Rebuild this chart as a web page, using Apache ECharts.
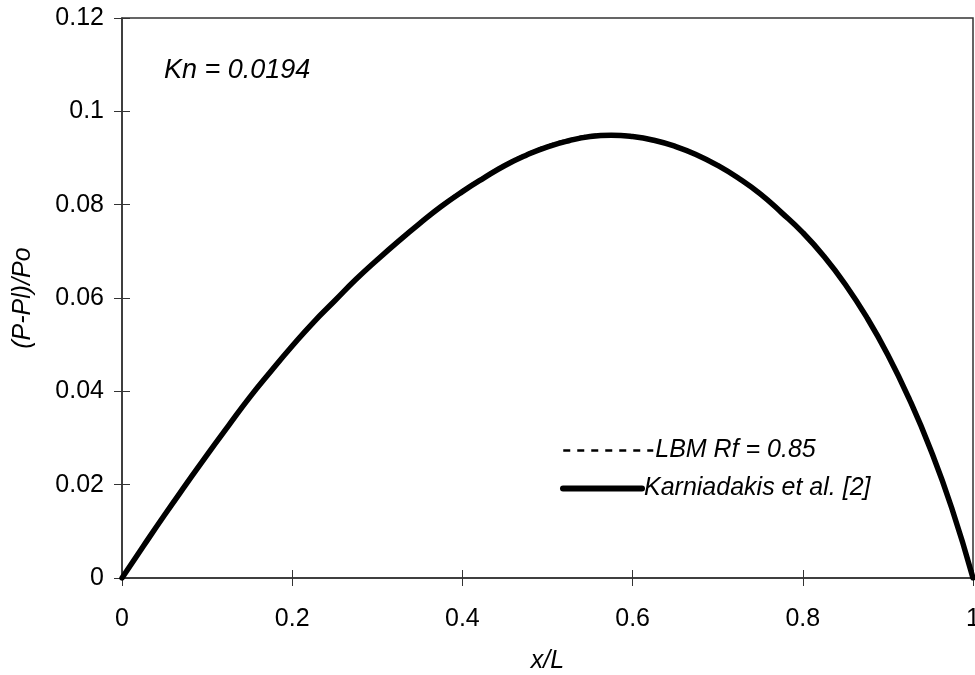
<!DOCTYPE html>
<html>
<head>
<meta charset="utf-8">
<script src="https://cdn.jsdelivr.net/npm/echarts@6/dist/echarts.min.js"></script>
<style>html,body{margin:0;padding:0;background:#fff;}#c{width:975px;height:675px;}</style>
</head>
<body>
<div id="c"></div>
<script>
var xValues = [0,0.025,0.05,0.075,0.1,0.125,0.15,0.175,0.2,0.225,0.25,0.275,0.3,0.325,0.35,0.375,0.4,0.425,0.45,0.475,0.5,0.525,0.55,0.575,0.6,0.625,0.65,0.675,0.7,0.725,0.75,0.775,0.8,0.825,0.85,0.875,0.9,0.925,0.95,0.975,1.0];
var karniadakis = [0,0.0068,0.0135,0.0200,0.0264,0.0326,0.0387,0.0443,0.0497,0.0548,0.0594,0.0640,0.0682,0.0722,0.0760,0.0796,0.0828,0.0857,0.0884,0.0906,0.0924,0.0937,0.0946,0.0949,0.0946,0.0938,0.0925,0.0907,0.0884,0.0856,0.0823,0.0783,0.0740,0.0689,0.0629,0.0559,0.0478,0.0384,0.0276,0.0150,0];
var lbm = [0,0.0069,0.0137,0.0202,0.0266,0.0328,0.0389,0.0446,0.0500,0.0551,0.0597,0.0643,0.0685,0.0725,0.0763,0.0799,0.0831,0.0860,0.0887,0.0909,0.0927,0.0940,0.0949,0.0951,0.0948,0.0940,0.0927,0.0909,0.0886,0.0858,0.0825,0.0785,0.0742,0.0691,0.0631,0.0561,0.0480,0.0386,0.0277,0.0151,0];
var xTicks = [0,0.2,0.4,0.6,0.8,1];
var yTicks = [0,0.02,0.04,0.06,0.08,0.1,0.12];
var seriesNames = ['LBM Rf = 0.85','Karniadakis et al. [2]'];
var annotation = 'Kn = 0.0194';
var xTitle = 'x/L';
var yTitle = '(P-Pl)/Po';

function pairs(ys){ return xValues.map(function(x,i){ return [x, ys[i]]; }); }

var FONT = '"Liberation Sans", Arial, sans-serif';
var axisColor = '#333';
var FS = 25;

var chart = echarts.init(document.getElementById('c'), null, {renderer:'canvas'});
chart.setOption({
  animation:false,
  backgroundColor:'#fff',
  grid:{left:122, right:2, top:18, bottom:97, show:true, borderColor:axisColor, borderWidth:1.5, containLabel:false, outerBoundsMode:'none'},
  xAxis:[{
    type:'value', min:xTicks[0], max:xTicks[xTicks.length-1], interval:0.2,
    name:xTitle, nameLocation:'middle', nameGap:71,
    nameTextStyle:{fontFamily:FONT, fontStyle:'italic', fontSize:FS, color:'#000'},
    axisLine:{show:true, lineStyle:{color:axisColor, width:1.5}},
    axisTick:{show:true, inside:false, length:8, lineStyle:{color:axisColor, width:1}},
    axisLabel:{margin:29, fontFamily:FONT, fontSize:FS, color:'#000', formatter:function(v){return String(+v.toFixed(2));}},
    splitLine:{show:false}
  },{
    type:'value', min:xTicks[0], max:xTicks[xTicks.length-1], interval:0.2, position:'bottom',
    axisLine:{show:false}, axisLabel:{show:false},
    axisTick:{show:true, inside:true, length:8, lineStyle:{color:axisColor, width:1}},
    splitLine:{show:false}
  }],
  yAxis:[{
    type:'value', min:yTicks[0], max:yTicks[yTicks.length-1], interval:0.02,
    name:yTitle, nameLocation:'middle', nameGap:86, nameRotate:90,
    nameTextStyle:{fontFamily:FONT, fontStyle:'italic', fontSize:FS, color:'#000'},
    axisLine:{show:true, lineStyle:{color:axisColor, width:1.5}},
    axisTick:{show:true, inside:false, length:8, lineStyle:{color:axisColor, width:1}},
    axisLabel:{margin:18, fontFamily:FONT, fontSize:FS, color:'#000', formatter:function(v){return String(+v.toFixed(2));}},
    splitLine:{show:false}
  },{
    type:'value', min:yTicks[0], max:yTicks[yTicks.length-1], interval:0.02, position:'left',
    axisLine:{show:false}, axisLabel:{show:false},
    axisTick:{show:true, inside:true, length:8, lineStyle:{color:axisColor, width:1}},
    splitLine:{show:false}
  }],
  legend:[{
    data:[seriesNames[0]], orient:'vertical', left:557, top:433, itemWidth:90, itemHeight:14, itemGap:5,
    itemStyle:{opacity:0},
    lineStyle:{color:'#000', width:2.5, type:[7,7]},
    textStyle:{fontFamily:FONT, fontStyle:'italic', fontSize:FS, color:'#000', padding:[0,0,0,-3]}
  },{
    data:[seriesNames[1]], orient:'vertical', left:555, top:471, itemWidth:79, itemHeight:14, itemGap:5,
    itemStyle:{opacity:0},
    lineStyle:{color:'#000', width:6, cap:'round'},
    textStyle:{fontFamily:FONT, fontStyle:'italic', fontSize:FS, color:'#000', padding:[0,0,0,-3]}
  }],
  graphic:[{
    type:'text', left:164, top:57,
    style:{text:annotation, font:'italic 27px "Liberation Sans", Arial, sans-serif', fill:'#000'}
  }],
  series:[{
    name:seriesNames[1], type:'line', xAxisIndex:0, yAxisIndex:0, data:pairs(karniadakis),
    showSymbol:false, symbol:'none', smooth:0.5, z:2,
    lineStyle:{color:'#000', width:5.5, cap:'round'}, itemStyle:{color:'#000'}
  },{
    name:seriesNames[0], type:'line', xAxisIndex:0, yAxisIndex:0, data:pairs(lbm),
    showSymbol:false, symbol:'none', smooth:0.5, z:3,
    lineStyle:{color:'#000', width:2, type:[6,5]}, itemStyle:{color:'#000'}
  }]
});
</script>
</body>
</html>
